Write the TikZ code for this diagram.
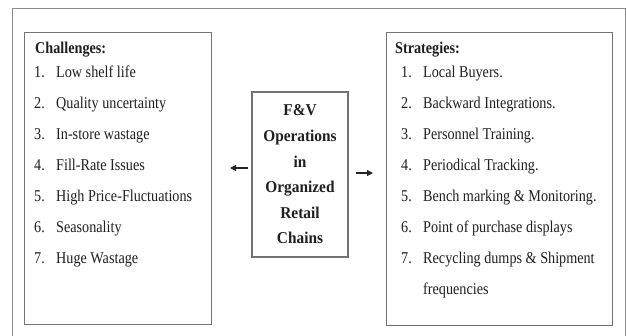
\documentclass[tikz,border=0pt]{standalone}
\usepackage{fontspec}
\setmainfont{Liberation Serif}[FakeStretch=0.86]
\newfontfamily\ctrfont{Liberation Serif}[FakeStretch=0.93]
\usetikzlibrary{arrows.meta}
\begin{document}
\begin{tikzpicture}[x=1pt,y=-1pt,
  frame/.style={draw=black!55, line width=1.1pt},
  box/.style={frame, anchor=north west, inner sep=0pt},
  txt/.style={anchor=base west, inner sep=0pt, font=\fontsize{16.5}{19}\selectfont, text=black!88},
  head/.style={txt, font=\fontsize{16.5}{19}\selectfont\bfseries},
  arr/.style={draw=black!85, line width=1.2pt, -{Triangle[length=6pt,width=6pt]}}]
\useasboundingbox (0,0) rectangle (626,336);
\fill[white] (0,0) rectangle (626,336);
\begin{scope}
\clip (0,0) rectangle (626,336);
% outer page frame, running off the bottom
\draw[frame, line width=0.9pt, draw=black!45] (12,8) rectangle (625,350);
\end{scope}

% the three boxes
\node[box, minimum width=187pt, minimum height=292pt] (chal) at (24,32) {};
\node[box, minimum width=226pt, minimum height=293pt] (strat) at (386,32) {};
\node[frame, inner sep=0pt, minimum width=96pt, minimum height=165pt,
      align=center, text=black!88, font=\ctrfont\fontsize{16.5}{25.6}\selectfont\bfseries]
  (ctr) at (300,174.5) {F\&V\\Operations\\in\\Organized\\Retail\\Chains};

% challenges list
\node[head] (chalhead) at (35,54) {Challenges:};
\foreach \i/\t in {1/Low shelf life, 2/Quality uncertainty, 3/In-store wastage,
                   4/Fill-Rate Issues, 5/High Price-Fluctuations, 6/Seasonality,
                   7/Huge Wastage}{
  \node[txt] (cn\i) at (34,{78+31*(\i-1)}) {\i.};
  \node[txt] (ct\i) at (56,{78+31*(\i-1)}) {\t};
}

% strategies list
\node[head] (strathead) at (395,54) {Strategies:};
\foreach \i/\t in {1/Local Buyers., 2/Backward Integrations., 3/Personnel Training.,
                   4/Periodical Tracking., 5/Bench marking \& Monitoring.,
                   6/Point of purchase displays, 7/Recycling dumps \& Shipment}{
  \node[txt] (sn\i) at (401,{78+31*(\i-1)}) {\i.};
  \node[txt] (st\i) at (423,{78+31*(\i-1)}) {\t};
}
\node[txt] (st7b) at (423,295) {frequencies};

% arrows out of the central box
\coordinate (lend) at (230,168);
\coordinate (rend) at (373,173);
\draw[arr] ([xshift=-3pt]ctr.west |- lend) -- (lend);
\draw[arr] ([xshift=7pt]ctr.east |- rend) -- (rend);
\end{tikzpicture}
\end{document}
